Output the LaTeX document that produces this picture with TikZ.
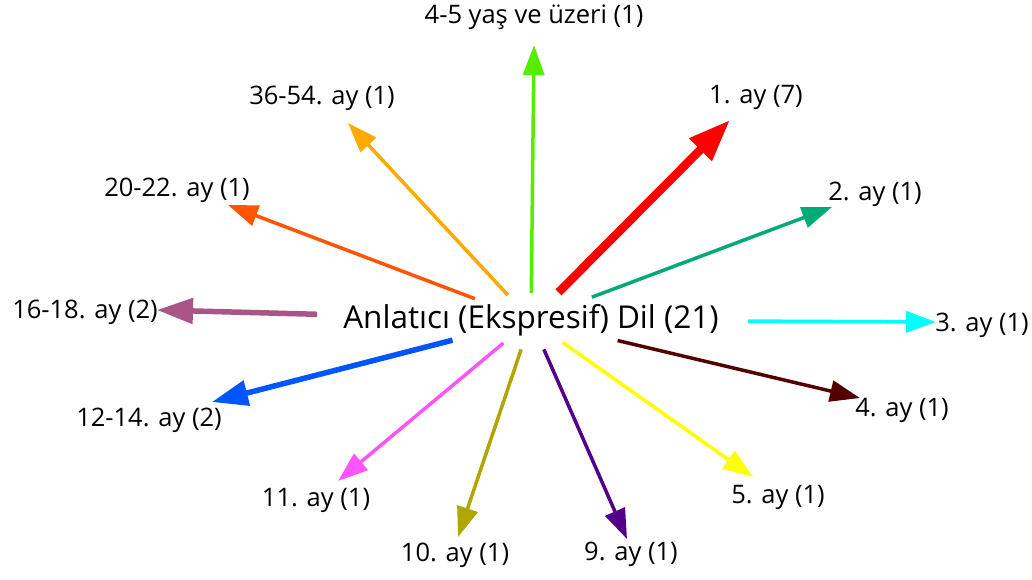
\documentclass[tikz,border=0pt]{standalone}
\usepackage{fontspec}
\setmainfont{Open Sans}
\usetikzlibrary{arrows.meta}
\definecolor{cgreen}{RGB}{85,238,0}
\definecolor{cred}{RGB}{255,0,0}
\definecolor{cteal}{RGB}{0,170,120}
\definecolor{ccyan}{RGB}{0,255,255}
\definecolor{cdred}{RGB}{85,0,0}
\definecolor{cyel}{RGB}{255,255,0}
\definecolor{cindigo}{RGB}{85,0,136}
\definecolor{colive}{RGB}{176,166,0}
\definecolor{cpink}{RGB}{255,85,255}
\definecolor{cblue}{RGB}{0,85,255}
\definecolor{cmauve}{RGB}{170,85,136}
\definecolor{corred}{RGB}{255,85,0}
\definecolor{corange}{RGB}{255,170,0}
\tikzset{
  lbl/.style={inner sep=0pt, font=\fontsize{25.5pt}{28pt}\selectfont},
  ctr/.style={inner sep=0pt, font=\fontsize{31.5pt}{34pt}\selectfont},
  thin/.style={line width=3.5pt, -{Triangle[length=30pt,width=21pt]}},
  mid/.style={line width=5.5pt, -{Triangle[length=36pt,width=25pt]}},
  thick/.style={line width=8.5pt, -{Triangle[length=42pt,width=30pt]}}
}
\begin{document}
\begin{tikzpicture}[x=1pt,y=-1pt]
\useasboundingbox (0,0) rectangle (1032,579);
\node[ctr] (c) at (531,320) {Anlatıcı (Ekspresif) Dil (21)};
% labels
\node[lbl] (l1) at (534,17) {4-5 yaş ve üzeri (1)};
\node[lbl] (l2) at (756,97) {1. ay (7)};
\node[lbl] (l3) at (875,194) {2. ay (1)};
\node[lbl] (l4) at (982,325) {3. ay (1)};
\node[lbl] (l5) at (902,410) {4. ay (1)};
\node[lbl] (l6) at (778,497) {5. ay (1)};
\node[lbl] (l7) at (631,554) {9. ay (1)};
\node[lbl] (l8) at (455,555) {10. ay (1)};
\node[lbl] (l9) at (316,500) {11. ay (1)};
\node[lbl] (l10) at (149,420) {12-14. ay (2)};
\node[lbl] (l11) at (85,312) {16-18. ay (2)};
\node[lbl] (l12) at (177,190) {20-22. ay (1)};
\node[lbl] (l13) at (322,98) {36-54. ay (1)};
% arrow tips
\coordinate (t1) at (534,45);
\coordinate (t2) at (730,120);
\coordinate (t3) at (832,207);
\coordinate (t4) at (936,322);
\coordinate (t5) at (860,398);
\coordinate (t6) at (753,477);
\coordinate (t7) at (627,539);
\coordinate (t8) at (458,537);
\coordinate (t9) at (338,481);
\coordinate (t10) at (212,402);
\coordinate (t11) at (157,310);
\coordinate (t12) at (228,205);
\coordinate (t13) at (348,123);
% edges
\draw[thin, cgreen, shorten <=27pt] (c.center) -- (t1);
\draw[thick, cred, shorten <=39pt] (c.center) -- (t2);
\draw[thin, cteal, shorten <=65pt] (c.center) -- (t3);
\draw[thin, ccyan, shorten <=217pt] (c.center) -- (t4);
\draw[thin, cdred, shorten <=89pt] (c.center) -- (t5);
\draw[thin, cyel, shorten <=39pt] (c.center) -- (t6);
\draw[thin, cindigo, shorten <=32pt] (c.center) -- (t7);
\draw[thin, colive, shorten <=31pt] (c.center) -- (t8);
\draw[thin, cpink, shorten <=36pt] (c.center) -- (t9);
\draw[mid, cblue, shorten <=81pt] (c.center) -- (t10);
\draw[mid, cmauve, shorten <=214pt] (c.center) -- (t11);
\draw[thin, corred, shorten <=60pt] (c.center) -- (t12);
\draw[thin, corange, shorten <=34pt] (c.center) -- (t13);
\end{tikzpicture}
\end{document}
